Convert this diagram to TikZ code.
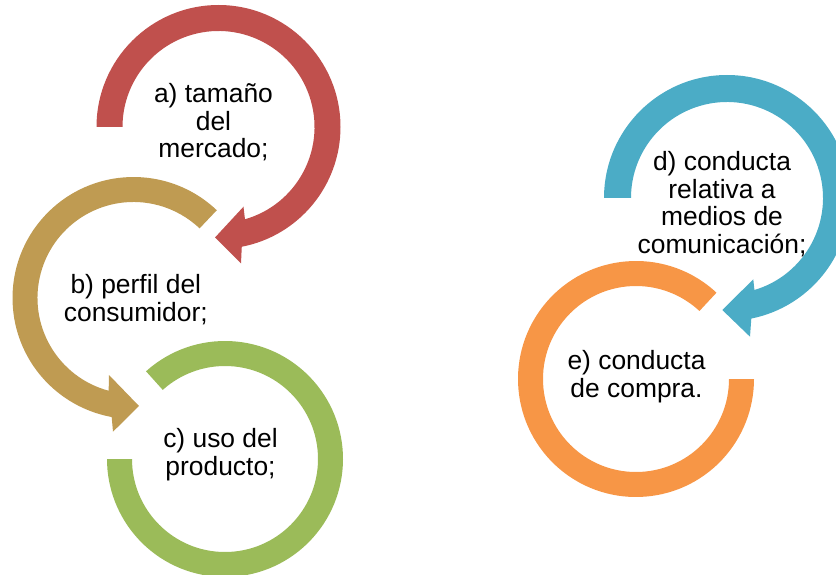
\documentclass[tikz,border=0pt]{standalone}
\usepackage{fontspec}
\setmainfont{Liberation Sans}
\definecolor{redc}{HTML}{C0504D}
\definecolor{tanc}{HTML}{BF9B52}
\definecolor{greenc}{HTML}{9BBB59}
\definecolor{bluec}{HTML}{4BACC6}
\definecolor{orangec}{HTML}{F79646}
\begin{document}
\begin{tikzpicture}[x=1pt,y=1pt,
  lbl/.style={align=center, font=\fontsize{26.4}{27.5}\selectfont, inner sep=0pt}]
\useasboundingbox (0,0) rectangle (836,-575);
\clip (0,0) rectangle (836,-575);

% a) red ring with arrow
\coordinate (ca) at (218.5,-127);
\coordinate (aob) at (241,-263.3);
\coordinate (atip) at (215,-237.5);
\coordinate (aib) at (243.5,-206.7);
\fill[redc] ([shift={(ca)}]180:122pt) arc[start angle=180,end angle=-79,radius=122pt]
  -- (aob) -- (atip) -- (aib)
  -- ([shift={(ca)}]-74:96pt) arc[start angle=-74,end angle=180,radius=96pt] -- cycle;

% b) tan ring with arrow
\coordinate (cb) at (133.5,-298);
\coordinate (bob) at (113,-431.7);
\coordinate (btip) at (139,-406);
\coordinate (bib) at (109,-375);
\fill[tanc] ([shift={(cb)}]46.5:121pt) arc[start angle=46.5,end angle=259.6,radius=121pt]
  -- (bob) -- (btip) -- (bib)
  -- ([shift={(cb)}]255:96pt) arc[start angle=255,end angle=46.5,radius=96pt] -- cycle;

% c) green ring
\coordinate (cc) at (225,-459);
\fill[greenc] ([shift={(cc)}]132:118pt) arc[start angle=132,end angle=-180,radius=118pt]
  -- ([shift={(cc)}]180:93pt) arc[start angle=-180,end angle=132,radius=93pt] -- cycle;

% d) blue ring with arrow
\coordinate (cd) at (727,-198);
\coordinate (dob) at (750,-336.7);
\coordinate (dtip) at (722.3,-310);
\coordinate (dib) at (753.3,-279.3);
\fill[bluec] ([shift={(cd)}]180:123pt) arc[start angle=180,end angle=-78.6,radius=123pt]
  -- (dob) -- (dtip) -- (dib)
  -- ([shift={(cd)}]-73.4:96pt) arc[start angle=-73.4,end angle=180,radius=96pt] -- cycle;

% e) orange ring
\coordinate (ce) at (636,-379);
\fill[orangec] ([shift={(ce)}]47:118pt) arc[start angle=47,end angle=360,radius=118pt]
  -- ([shift={(ce)}]0:93pt) arc[start angle=360,end angle=47,radius=93pt] -- cycle;

% labels
\node[lbl] (ta) at (213.5,-122.5) {a) tamaño\\del\\mercado;};
\node[lbl] (tb) at (135.8,-299.5) {b) perfil del\\consumidor;};
\node[lbl] (tc) at (220.5,-454.5) {c) uso del\\producto;};
\node[lbl] (td) at (722,-204) {d) conducta\\relativa a\\medios de\\comunicación;};
\node[lbl] (te) at (636.5,-376.5) {e) conducta\\de compra.};
\end{tikzpicture}
\end{document}
